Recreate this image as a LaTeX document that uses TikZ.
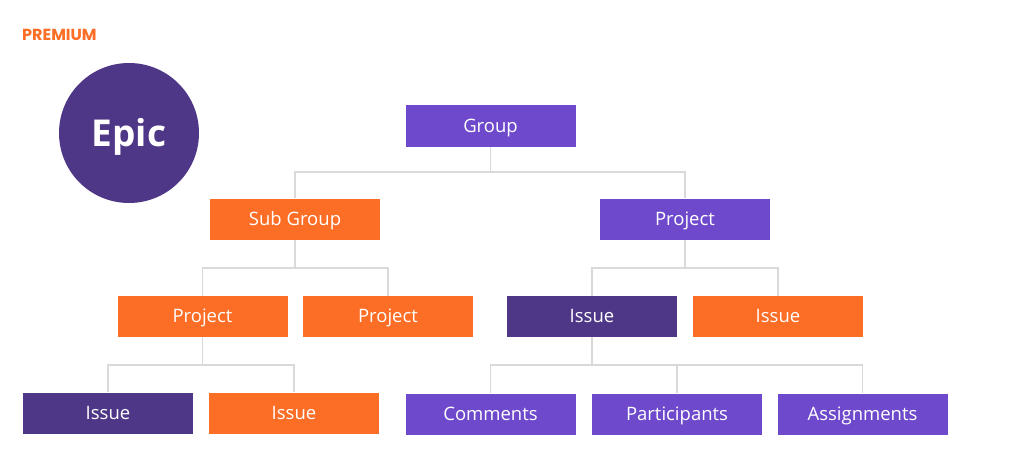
\documentclass[tikz,border=0pt]{standalone}
\usepackage{fontspec}
\setmainfont{Open Sans}
\newfontfamily\premfont{Poppins}
\definecolor{gorange}{HTML}{FC6D26}
\definecolor{glpurple}{HTML}{6E49CB}
\definecolor{gdpurple}{HTML}{4F3787}
\definecolor{gline}{HTML}{D9D9D9}
\begin{document}
\begin{tikzpicture}[x=1pt,y=-1pt,
  box/.style={rectangle, minimum width=170pt, minimum height=41pt, inner sep=0pt, text=white, text height=16pt, text depth=4pt, font=\fontsize{18.5}{22}\selectfont},
  orng/.style={box, fill=gorange},
  lpur/.style={box, fill=glpurple},
  dpur/.style={box, fill=gdpurple},
  link/.style={draw=gline, line width=1.6pt}]
\useasboundingbox (0,0) rectangle (1024,468);
\fill[white] (0,0) rectangle (1024,468);
\node[anchor=west, inner sep=0pt, text=gorange, font=\premfont\bfseries\fontsize{16}{18}\selectfont] (prem) at (22,35) {PREMIUM};
\node[circle, fill=gdpurple, minimum size=140pt, inner sep=0pt] (epic) at (129,133) {};
\node[text=white, inner sep=0pt, font=\bfseries\fontsize{37}{40}\selectfont] (epictxt) at (129,137) {Epic};

\node[lpur] (group) at (490.5,126) {Group};
\node[orng] (sub) at (295,219) {Sub Group};
\node[lpur] (proj) at (685,219) {Project};
\node[orng] (projl) at (202.5,316.5) {Project};
\node[orng] (projm) at (388,316.5) {Project};
\node[dpur] (issd) at (592,316.5) {Issue};
\node[orng] (isso) at (778,316.5) {Issue};
\node[dpur] (issbl) at (108,413) {Issue};
\node[orng] (issbo) at (294,413) {Issue};
\node[lpur] (com) at (490.5,414) {Comments};
\node[lpur] (par) at (677,414) {Participants};
\node[lpur] (ass) at (862.5,414) {Assignments};

\coordinate (j1) at (490.5,172);
\coordinate (j2) at (295,268);
\coordinate (j3) at (685,268);
\coordinate (j4) at (202.5,365);
\coordinate (j5) at (592,365);

\draw[link] (group.south) -- (j1);
\draw[link] (sub.north) |- (j1) -| (proj.north);
\draw[link] (sub.south) -- (j2);
\draw[link] (projl.north) |- (j2) -| (projm.north);
\draw[link] (proj.south) -- (j3);
\draw[link] (issd.north) |- (j3) -| (isso.north);
\draw[link] (projl.south) -- (j4);
\draw[link] (issbl.north) |- (j4) -| (issbo.north);
\draw[link] (issd.south) -- (j5);
\draw[link] (com.north) |- (j5) -| (ass.north);
\draw[link] (par.north) -- (par.north |- j5);
\end{tikzpicture}
\end{document}
